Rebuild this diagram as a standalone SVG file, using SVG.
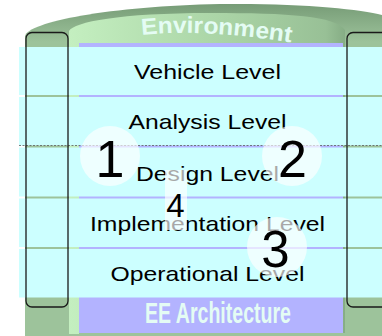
<svg xmlns="http://www.w3.org/2000/svg" width="382" height="336" viewBox="0 0 382 336">
<defs>
<linearGradient id="outerG" gradientUnits="userSpaceOnUse" x1="0" y1="0" x2="0" y2="42">
<stop offset="0" stop-color="#739873"/>
<stop offset="1" stop-color="#9dc39b"/>
</linearGradient>
<linearGradient id="innerG" gradientUnits="userSpaceOnUse" x1="69" y1="0" x2="345" y2="0">
<stop offset="0" stop-color="#c4efc0"/>
<stop offset="0.6" stop-color="#a8d2a4"/>
<stop offset="0.93" stop-color="#98c096"/>
<stop offset="1" stop-color="#86ad85"/>
</linearGradient>
<path id="envArc" d="M142,35 Q205,28 300,44"/>
</defs>
<style>
.row{fill:#ccffff}
.lvl{font-family:"Liberation Sans",Arial,sans-serif;font-size:21px;fill:#000;text-anchor:middle}
.num{font-family:"Liberation Sans",Arial,sans-serif;fill:#000;text-anchor:middle}
.halo{fill:#ffffff;fill-opacity:0.66}
.frame{fill:none;stroke:#1a1a1a;stroke-width:1.3}
.title{font-family:"Liberation Sans",Arial,sans-serif;font-weight:bold;fill:#e4fcf4}
</style>
<rect width="382" height="336" fill="#ffffff"/>
<g id="cylinder">
<path d="M25,336 L25,36 C28,22 110,6 220,4 C300,3 360,9 382,15 L382,336 Z" fill="url(#outerG)"/>
<path d="M69,334 L69,31 C74,22 120,13 210,13 C290,13 335,16 345,30 L345,333 L79,333 L79,334 Z" fill="url(#innerG)"/>
<rect x="79" y="43" width="264" height="290" fill="#b3b3ff"/>
<text class="title" font-size="23"><textPath href="#envArc" textLength="150" lengthAdjust="spacingAndGlyphs">Environment</textPath></text>
<text class="title" x="218" y="323" font-size="29" text-anchor="middle" fill="#e8f6ff" textLength="146" lengthAdjust="spacingAndGlyphs">EE Architecture</text>
</g>
<g id="rows">
<rect class="row" x="19" y="47" width="363" height="48"/>
<rect class="row" x="19" y="97" width="363" height="48.5"/>
<rect class="row" x="19" y="147.5" width="363" height="49"/>
<rect class="row" x="19" y="198.5" width="363" height="48.5"/>
<rect class="row" x="19" y="249" width="363" height="48.5"/>
</g>
<g id="connectors">
<line x1="19" y1="145.5" x2="382" y2="145.5" stroke="#5a5a5a" stroke-width="0.8" stroke-dasharray="2 1.5"/>
</g>
<g id="side-frames">
<rect class="frame" x="26" y="32.5" width="42" height="274.5" rx="6"/>
<rect class="frame" x="347" y="32.5" width="60" height="274.5" rx="6"/>
</g>
<g id="level-vehicle"><text class="lvl" x="207.5" y="78.5" textLength="147" lengthAdjust="spacingAndGlyphs">Vehicle Level</text></g>
<g id="level-analysis"><text class="lvl" x="207.5" y="129.3" textLength="158" lengthAdjust="spacingAndGlyphs">Analysis Level</text></g>
<g id="level-design"><text class="lvl" x="207.5" y="180.5" textLength="143" lengthAdjust="spacingAndGlyphs">Design Level</text></g>
<g id="level-implementation"><text class="lvl" x="207.5" y="230.7" textLength="235" lengthAdjust="spacingAndGlyphs">Implementation Level</text></g>
<g id="level-operational"><text class="lvl" x="207.5" y="281" textLength="194" lengthAdjust="spacingAndGlyphs">Operational Level</text></g>
<g id="marker-1"><circle class="halo" cx="110" cy="156" r="30"/><text class="num" x="110" y="177" font-size="52">1</text></g>
<g id="marker-2"><circle class="halo" cx="292" cy="156" r="30"/><text class="num" x="292.5" y="177" font-size="52">2</text></g>
<g id="marker-3"><circle class="halo" cx="277" cy="247" r="30"/><text class="num" x="275.5" y="267" font-size="51">3</text></g>
<g id="marker-4"><rect class="halo" x="165" y="170" width="22" height="60"/><text class="num" x="175.5" y="216.5" font-size="33">4</text></g>
</svg>
